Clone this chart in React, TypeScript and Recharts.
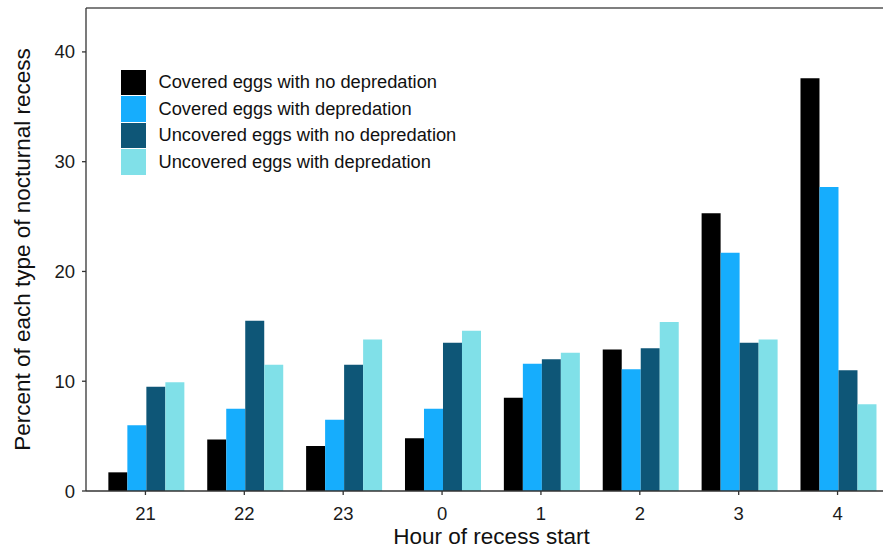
import { BarChart, Bar, XAxis, YAxis, Legend, ReferenceLine } from 'recharts';

const HOURS = ['21', '22', '23', '0', '1', '2', '3', '4'];
const COVERED_NO_DEP = [1.7, 4.7, 4.1, 4.8, 8.5, 12.9, 25.3, 37.6];
const COVERED_DEP = [6.0, 7.5, 6.5, 7.5, 11.6, 11.1, 21.7, 27.7];
const UNCOVERED_NO_DEP = [9.5, 15.5, 11.5, 13.5, 12.0, 13.0, 13.5, 11.0];
const UNCOVERED_DEP = [9.9, 11.5, 13.8, 14.6, 12.6, 15.4, 13.8, 7.9];
const Y_TICKS = [0, 10, 20, 30, 40];

const SERIES = [
  { key: 'covNo', name: 'Covered eggs with no depredation', color: '#000000', values: COVERED_NO_DEP },
  { key: 'covDep', name: 'Covered eggs with depredation', color: '#16adfd', values: COVERED_DEP },
  { key: 'uncNo', name: 'Uncovered eggs with no depredation', color: '#0e5677', values: UNCOVERED_NO_DEP },
  { key: 'uncDep', name: 'Uncovered eggs with depredation', color: '#80e0e8', values: UNCOVERED_DEP },
];

const data = HOURS.map((hour, i) => {
  const row: Record<string, string | number> = { hour };
  SERIES.forEach((s) => (row[s.key] = s.values[i]));
  return row;
});

const FONT = 'Liberation Sans, Arial, sans-serif';
const AXIS = '#333333';
const TICK_SIZE = 18.5;

// custom tick renderers so font size / spacing are under our control
const XTick = (props: any) => (
  <text
    x={props.x}
    y={513.3}
    dy="0.355em"
    textAnchor="middle"
    fontSize={TICK_SIZE}
    fontFamily={FONT}
    fill="#1a1a1a"
  >
    {props.payload.value}
  </text>
);

const YTick = (props: any) => (
  <text
    x={75}
    y={props.y}
    dy="0.355em"
    textAnchor="end"
    fontSize={TICK_SIZE}
    fontFamily={FONT}
    fill="#1a1a1a"
  >
    {props.payload.value}
  </text>
);

function LegendBox() {
  return (
    <div style={{ fontFamily: FONT, fontSize: 18.3, color: '#111' }}>
      {SERIES.map((s) => (
        <div key={s.key} style={{ display: 'flex', alignItems: 'center', height: 26.5 }}>
          <div style={{ width: 25, height: 25.5, background: s.color, marginRight: 12.5 }} />
          <span style={{ lineHeight: '26px', whiteSpace: 'nowrap' }}>{s.name}</span>
        </div>
      ))}
    </div>
  );
}

export default function App() {
  return (
    <div style={{ position: 'absolute', left: 0, top: 0, width: 883, height: 548, overflow: 'hidden', background: '#fff' }}>
      <BarChart
        width={897}
        height={548}
        data={data}
        margin={{ top: 8, right: 0, bottom: 0, left: 0 }}
        barCategoryGap="12.5%"
        barGap={0}
      >
        <XAxis
          dataKey="hour"
          height={57}
          padding={{ left: 10, right: 10 }}
          tickSize={4}
          tick={<XTick />}
          axisLine={{ stroke: AXIS, strokeWidth: 1.3 }}
          tickLine={{ stroke: AXIS, strokeWidth: 1.3 }}
          label={{
            value: 'Hour of recess start',
            position: 'insideBottom',
            offset: 4,
            fontSize: 22.5,
            fill: '#111',
            fontFamily: FONT,
          }}
        />
        <YAxis
          width={86}
          domain={[0, 44]}
          ticks={Y_TICKS}
          allowDataOverflow
          tickSize={4}
          tick={<YTick />}
          axisLine={{ stroke: AXIS, strokeWidth: 1.3 }}
          tickLine={{ stroke: AXIS, strokeWidth: 1.3 }}
          label={{
            content: () => (
              <text
                x={22}
                y={249.5}
                dy="0.355em"
                transform="rotate(-90 22 249.5)"
                textAnchor="middle"
                fontSize={22.5}
                fill="#111"
                fontFamily={FONT}
              >
                Percent of each type of nocturnal recess
              </text>
            ),
          }}
        />
        <ReferenceLine y={44} stroke="#555" strokeWidth={1.5} />
        <Legend
          layout="vertical"
          align="center"
          verticalAlign="middle"
          content={() => <LegendBox />}
          wrapperStyle={{ top: 69, left: 121, width: 'auto' }}
        />
        {SERIES.map((s) => (
          <Bar key={s.key} dataKey={s.key} name={s.name} fill={s.color} isAnimationActive={false} />
        ))}
      </BarChart>
    </div>
  );
}
